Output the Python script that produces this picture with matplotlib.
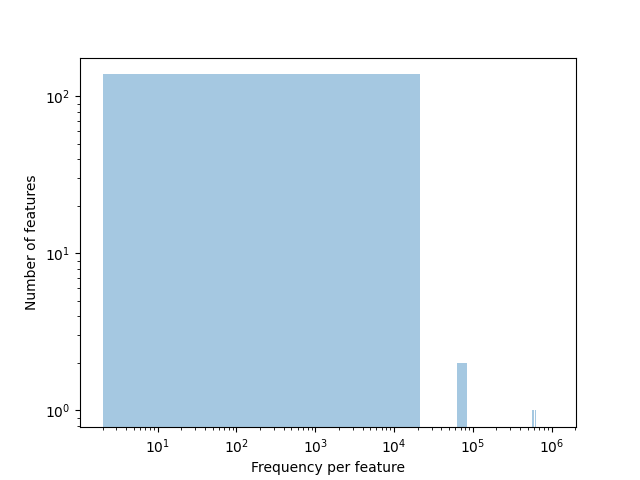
import numpy as np
import matplotlib
matplotlib.use("Agg")
import matplotlib.pyplot as plt

# histogram: 50 linear bins, only non-empty ones listed
bin_start = 2
bin_width = 21170
n_bins = 50
bin_index = [0, 3, 27, 29]
bin_count = [138, 2, 1, 1]


def main() -> None:
    edges = bin_start + bin_width * np.arange(n_bins + 1)
    centers = [(edges[i] + edges[i + 1]) / 2 for i in bin_index]

    fig, ax = plt.subplots(figsize=(6.4, 4.8), dpi=100)
    ax.hist(centers, bins=edges, weights=bin_count, log=True, alpha=0.4)
    ax.set_xscale("log")
    ax.set_xlabel("Frequency per feature")
    ax.set_ylabel("Number of features")
    fig.savefig("out.png", dpi=100)
    plt.close(fig)


if __name__ == "__main__":
    main()
